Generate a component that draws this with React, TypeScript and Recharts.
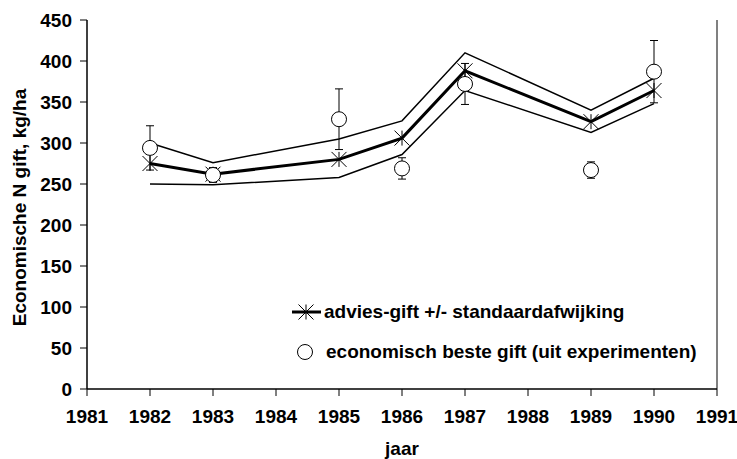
import {
  ComposedChart,
  Line,
  Scatter,
  XAxis,
  YAxis,
  ErrorBar,
  ReferenceLine,
  Legend,
} from "recharts";

// jaren met waarnemingen (1984 en 1988 ontbreken)
const years = [1982, 1983, 1985, 1986, 1987, 1989, 1990];
// advies-gift en +/- standaardafwijking
const adviesGift = [275, 262, 280, 306, 388, 326, 364];
const adviesBoven = [300, 276, 305, 327, 410, 340, 379];
const adviesOnder = [250, 249, 258, 286, 364, 313, 348];
// economisch beste gift uit experimenten, met foutmarge
const besteGift = [294, 261, 329, 269, 372, 267, 387];
const besteFout = [27, 9, 37, 13, 25, 10, 38];

const xTicks = [1981, 1982, 1983, 1984, 1985, 1986, 1987, 1988, 1989, 1990, 1991];
const yTicks = [0, 50, 100, 150, 200, 250, 300, 350, 400, 450];

const data = years.map((year, i) => ({
  year,
  advies: adviesGift[i],
  boven: adviesBoven[i],
  onder: adviesOnder[i],
  beste: besteGift[i],
  besteErr: besteFout[i],
}));

const FONT = '"Liberation Sans", Arial, sans-serif';

const XTick = ({ x, y, payload }) => (
  <text
    x={x}
    y={y}
    dy={15}
    textAnchor="middle"
    fill="#000"
    fontSize={19}
    fontWeight="bold"
    fontFamily={FONT}
  >
    {payload.value}
  </text>
);

const YTick = ({ x, y, payload }) => (
  <text
    x={x}
    y={y}
    dy={7}
    textAnchor="end"
    fill="#000"
    fontSize={19}
    fontWeight="bold"
    fontFamily={FONT}
  >
    {payload.value}
  </text>
);

const Asterisk = ({ cx, cy }) => {
  if (cx == null || cy == null) return null;
  const r = 7.5;
  return (
    <g stroke="#000" strokeWidth={1}>
      <line x1={cx} y1={cy - r} x2={cx} y2={cy + r} />
      <line x1={cx - r} y1={cy - r} x2={cx + r} y2={cy + r} />
      <line x1={cx - r} y1={cy + r} x2={cx + r} y2={cy - r} />
    </g>
  );
};

const Circle = ({ cx, cy }) => (
  <circle cx={cx} cy={cy} r={7.5} fill="#fff" stroke="#000" strokeWidth={1} />
);

const YTitle = ({ viewBox }) => {
  const x = viewBox.x + 26;
  const y = viewBox.y + viewBox.height / 2 + 3;
  return (
    <text
      x={x}
      y={y}
      transform={`rotate(-90 ${x} ${y})`}
      textAnchor="middle"
      fill="#000"
      fontSize={19}
      fontWeight="bold"
      fontFamily={FONT}
    >
      Economische N gift, kg/ha
    </text>
  );
};

const XTitle = ({ viewBox }) => (
  <text
    x={viewBox.x + viewBox.width / 2}
    y={viewBox.y + 66}
    textAnchor="middle"
    fill="#000"
    fontSize={19}
    fontWeight="bold"
    fontFamily={FONT}
  >
    jaar
  </text>
);

const LegendContent = () => (
  <div
    style={{
      fontFamily: FONT,
      fontWeight: "bold",
      fontSize: 19,
      color: "#000",
      whiteSpace: "nowrap",
    }}
  >
    <div style={{ display: "flex", alignItems: "center", height: 40 }}>
      <svg width={33} height={16} style={{ display: "block" }}>
        <line x1={1} y1={8} x2={30} y2={8} stroke="#000" strokeWidth={3} />
        <Asterisk cx={15} cy={8} />
      </svg>
      <span>advies-gift +/- standaardafwijking</span>
    </div>
    <div style={{ display: "flex", alignItems: "center", height: 40 }}>
      <svg width={35} height={18} style={{ display: "block" }}>
        <Circle cx={14} cy={9} />
      </svg>
      <span>economisch beste gift (uit experimenten)</span>
    </div>
  </div>
);

export default function App() {
  return (
    <div style={{ position: "absolute", left: 0, top: 0, background: "#fff" }}>
      <ComposedChart
        width={737}
        height={459}
        data={data}
        margin={{ top: 20, right: 20, bottom: 0, left: 0 }}
      >
        <XAxis
          dataKey="year"
          type="number"
          domain={[1981, 1991]}
          ticks={xTicks}
          interval={0}
          allowDecimals={false}
          height={70}
          tick={XTick}
          tickSize={7}
          tickMargin={12}
          axisLine={{ stroke: "#000", strokeWidth: 1.5 }}
          tickLine={{ stroke: "#000" }}
          label={XTitle}
        />
        <YAxis
          type="number"
          domain={[0, 450]}
          ticks={yTicks}
          interval={0}
          width={87}
          tick={YTick}
          tickSize={7}
          tickMargin={8}
          axisLine={{ stroke: "#000", strokeWidth: 1.5 }}
          tickLine={{ stroke: "#000" }}
          label={YTitle}
        />
        <ReferenceLine x={1991} stroke="#808080" strokeWidth={2} />
        <Line
          dataKey="boven"
          stroke="#000"
          strokeWidth={1.5}
          dot={false}
          activeDot={false}
          isAnimationActive={false}
          legendType="none"
        />
        <Line
          dataKey="onder"
          stroke="#000"
          strokeWidth={1.5}
          dot={false}
          activeDot={false}
          isAnimationActive={false}
          legendType="none"
        />
        <Line
          dataKey="advies"
          stroke="#000"
          strokeWidth={3}
          dot={false}
          activeDot={false}
          isAnimationActive={false}
        />
        <Scatter
          dataKey="advies"
          shape={(props) => <Asterisk cx={props.cx} cy={props.cy} />}
          isAnimationActive={false}
          legendType="none"
        />
        <Scatter
          dataKey="beste"
          shape={(props) => <Circle cx={props.cx} cy={props.cy} />}
          isAnimationActive={false}
        >
          <ErrorBar dataKey="besteErr" direction="y" width={4} stroke="#000" strokeWidth={1} />
        </Scatter>
        <Legend
          layout="vertical"
          align="center"
          verticalAlign="middle"
          content={LegendContent}
          wrapperStyle={{ left: 291, top: 292, width: 440, height: 80 }}
        />
      </ComposedChart>
    </div>
  );
}
